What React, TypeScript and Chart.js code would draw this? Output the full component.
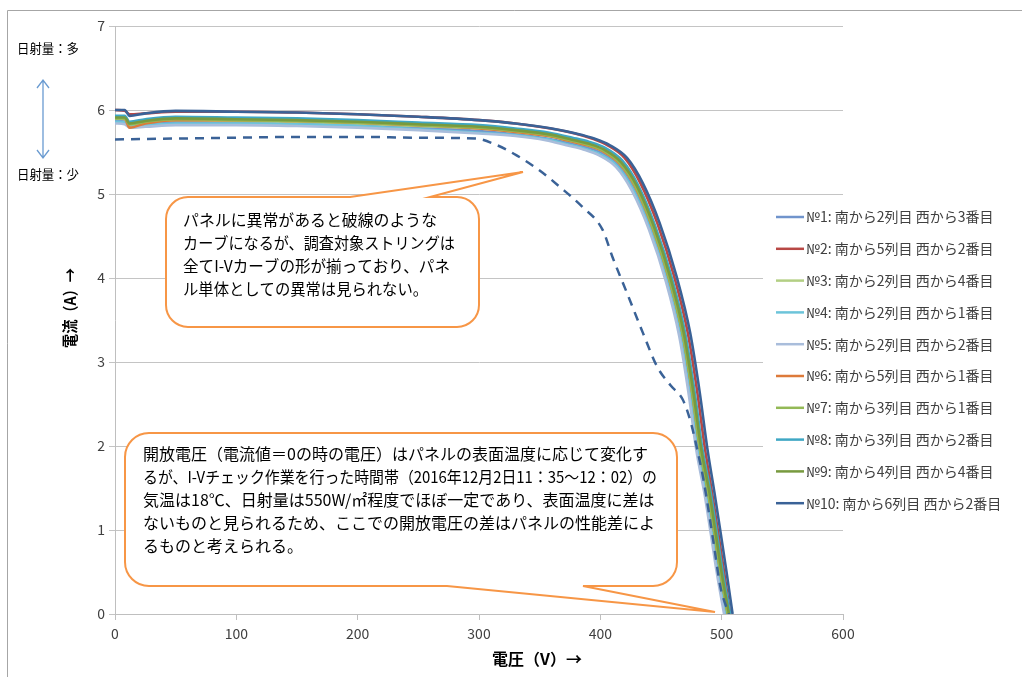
import React, { useEffect, useRef } from "react";
import { Chart, registerables } from "chart.js";

Chart.register(...registerables);

// ---- data (voltage V, current A) ----
const V1 = [0, 8, 12, 25, 50, 100, 150, 200, 250, 300, 330, 356, 374, 388, 401, 415, 428, 442, 456, 467, 475, 481, 488, 493, 498, 504];
const I1 = [5.88, 5.87, 5.81, 5.83, 5.86, 5.85, 5.84, 5.82, 5.79, 5.75, 5.71, 5.66, 5.61, 5.56, 5.49, 5.34, 5.06, 4.59, 3.97, 3.32, 2.6, 1.97, 1.43, 0.96, 0.49, 0.0];
const V2 = [0, 8, 12, 25, 50, 100, 150, 200, 250, 300, 330, 359, 379, 393, 406, 420, 433, 447, 461, 472, 480, 486, 492, 497, 502, 507];
const I2 = [6.0, 5.99, 5.95, 5.96, 5.98, 5.98, 5.97, 5.95, 5.92, 5.88, 5.84, 5.78, 5.72, 5.66, 5.58, 5.43, 5.13, 4.65, 4.01, 3.35, 2.63, 1.99, 1.45, 0.98, 0.5, 0.0];
const V3 = [0, 8, 12, 25, 50, 100, 150, 200, 250, 300, 330, 357, 375, 389, 402, 416, 429, 443, 457, 468, 476, 482, 489, 494, 499, 505];
const I3 = [5.9, 5.89, 5.82, 5.85, 5.88, 5.87, 5.86, 5.84, 5.81, 5.78, 5.74, 5.69, 5.63, 5.58, 5.51, 5.36, 5.08, 4.6, 3.97, 3.32, 2.6, 1.97, 1.43, 0.96, 0.49, 0.0];
const V4 = [0, 8, 12, 25, 50, 100, 150, 200, 250, 300, 330, 356, 373, 387, 400, 414, 427, 441, 455, 466, 474, 480, 487, 492, 497, 503];
const I4 = [5.86, 5.85, 5.8, 5.82, 5.84, 5.84, 5.83, 5.81, 5.77, 5.73, 5.7, 5.65, 5.59, 5.54, 5.47, 5.33, 5.05, 4.58, 3.96, 3.31, 2.6, 1.97, 1.43, 0.96, 0.49, 0.0];
const V5 = [0, 8, 12, 25, 50, 100, 150, 200, 250, 300, 330, 355, 372, 386, 399, 413, 426, 440, 454, 465, 473, 479, 486, 491, 496, 502];
const I5 = [5.84, 5.83, 5.79, 5.8, 5.82, 5.82, 5.81, 5.79, 5.76, 5.72, 5.69, 5.64, 5.58, 5.53, 5.46, 5.32, 5.04, 4.58, 3.96, 3.31, 2.6, 1.96, 1.42, 0.96, 0.49, 0.0];
const V6 = [0, 8, 12, 25, 50, 100, 150, 200, 250, 300, 330, 357, 375, 389, 402, 416, 429, 443, 457, 468, 476, 482, 489, 494, 499, 505];
const I6 = [5.92, 5.9, 5.79, 5.84, 5.88, 5.88, 5.87, 5.85, 5.82, 5.78, 5.74, 5.69, 5.63, 5.58, 5.51, 5.36, 5.08, 4.6, 3.97, 3.32, 2.6, 1.97, 1.43, 0.96, 0.49, 0.0];
const V7 = [0, 8, 12, 25, 50, 100, 150, 200, 250, 300, 330, 357, 375, 389, 402, 416, 429, 443, 457, 468, 476, 482, 489, 494, 499, 505];
const I7 = [5.9, 5.9, 5.83, 5.86, 5.89, 5.88, 5.87, 5.85, 5.82, 5.79, 5.75, 5.7, 5.64, 5.59, 5.52, 5.37, 5.09, 4.61, 3.98, 3.32, 2.61, 1.97, 1.43, 0.97, 0.49, 0.0];
const V8 = [0, 8, 12, 25, 50, 100, 150, 200, 250, 300, 330, 358, 377, 391, 404, 418, 431, 445, 459, 470, 478, 484, 491, 496, 501, 507];
const I8 = [5.93, 5.93, 5.86, 5.89, 5.92, 5.91, 5.9, 5.88, 5.85, 5.82, 5.78, 5.73, 5.67, 5.62, 5.55, 5.4, 5.11, 4.63, 4.0, 3.34, 2.62, 1.98, 1.44, 0.97, 0.49, 0.0];
const V9 = [0, 8, 12, 25, 50, 100, 150, 200, 250, 300, 330, 358, 376, 390, 403, 417, 430, 444, 458, 469, 477, 483, 490, 495, 500, 506];
const I9 = [5.91, 5.91, 5.84, 5.87, 5.9, 5.89, 5.88, 5.86, 5.83, 5.8, 5.76, 5.71, 5.65, 5.6, 5.53, 5.38, 5.1, 4.62, 3.99, 3.33, 2.61, 1.98, 1.44, 0.97, 0.49, 0.0];
const V10 = [0, 8, 12, 25, 50, 100, 150, 200, 250, 300, 330, 360, 380, 395, 408, 422, 435, 449, 463, 474, 482, 488, 494, 499, 504, 509];
const I10 = [6.0, 6.0, 5.93, 5.96, 5.99, 5.98, 5.97, 5.95, 5.92, 5.88, 5.84, 5.78, 5.72, 5.66, 5.58, 5.43, 5.13, 4.65, 4.01, 3.35, 2.63, 1.99, 1.45, 0.98, 0.5, 0.0];
// abnormal example (dashed)
const VD = [0, 50, 100, 150, 200, 250, 297, 315, 331, 350, 367, 385, 402, 410, 422, 435, 447, 458, 468, 474, 480, 485, 493, 499, 503, 506];
const ID = [5.65, 5.66, 5.67, 5.68, 5.68, 5.67, 5.66, 5.58, 5.46, 5.28, 5.08, 4.85, 4.57, 4.25, 3.82, 3.35, 2.94, 2.72, 2.55, 2.31, 1.95, 1.6, 0.88, 0.32, 0.12, 0.0];

const SERIES_NAMES = [
  "№1: 南から2列目 西から3番目",
  "№2: 南から5列目 西から2番目",
  "№3: 南から2列目 西から4番目",
  "№4: 南から2列目 西から1番目",
  "№5: 南から2列目 西から2番目",
  "№6: 南から5列目 西から1番目",
  "№7: 南から3列目 西から1番目",
  "№8: 南から3列目 西から2番目",
  "№9: 南から4列目 西から4番目",
  "№10: 南から6列目 西から2番目",
];
const SERIES_V = [V1, V2, V3, V4, V5, V6, V7, V8, V9, V10];
const SERIES_I = [I1, I2, I3, I4, I5, I6, I7, I8, I9, I10];
const COLORS = ["#7094CC", "#B84845", "#B3CF84", "#6CC4DA", "#A9BDDB", "#DD7A3A", "#93B956", "#3FA7C4", "#789A3F", "#3A6297"];
const DASH_COLOR = "#3A6297";

const X_TICKS = [0, 100, 200, 300, 400, 500, 600];
const Y_TICKS = [0, 1, 2, 3, 4, 5, 6, 7];

const X_TITLE = "電圧（V）→";
const Y_TITLE = "電流（A）→";
const SUN_HIGH = "日射量：多";
const SUN_LOW = "日射量：少";
const NOTE1 = [
  "パネルに異常があると破線のような",
  "カーブになるが、調査対象ストリングは",
  "全てI-Vカーブの形が揃っており、パネ",
  "ル単体としての異常は見られない。",
];
const NOTE2 = [
  "開放電圧（電流値＝0の時の電圧）はパネルの表面温度に応じて変化す",
  "るが、I-Vチェック作業を行った時間帯（2016年12月2日11：35～12：02）の",
  "気温は18℃、日射量は550W/㎡程度でほぼ一定であり、表面温度に差は",
  "ないものと見られるため、ここでの開放電圧の差はパネルの性能差によ",
  "るものと考えられる。",
];
const NOTE1_WIDTHS = [254, 272, 267, 245];
const NOTE2_WIDTHS = [514, 514, 514, 514, 165];

const FONT = "'Noto Sans CJK JP', 'Noto Sans', sans-serif";
const ORANGE = "#F79646";

function callout(
  ctx: CanvasRenderingContext2D,
  x0: number, y0: number, x1: number, y1: number, r: number,
  side: "top" | "bottom", b1: number, b2: number, tx: number, ty: number
) {
  ctx.beginPath();
  ctx.moveTo(x0 + r, y0);
  if (side === "top") {
    ctx.lineTo(b1, y0);
    ctx.lineTo(tx, ty);
    ctx.lineTo(b2, y0);
  }
  ctx.lineTo(x1 - r, y0);
  ctx.arcTo(x1, y0, x1, y0 + r, r);
  ctx.lineTo(x1, y1 - r);
  ctx.arcTo(x1, y1, x1 - r, y1, r);
  if (side === "bottom") {
    ctx.lineTo(b2, y1);
    ctx.lineTo(tx, ty);
    ctx.lineTo(b1, y1);
  }
  ctx.lineTo(x0 + r, y1);
  ctx.arcTo(x0, y1, x0, y1 - r, r);
  ctx.lineTo(x0, y0 + r);
  ctx.arcTo(x0, y0, x0 + r, y0, r);
  ctx.closePath();
  ctx.fillStyle = "#FFFFFF";
  ctx.fill();
  ctx.strokeStyle = ORANGE;
  ctx.lineWidth = 2;
  ctx.lineJoin = "miter";
  ctx.stroke();
}

function fitText(ctx: CanvasRenderingContext2D, t: string, x: number, y: number, w: number) {
  const m = ctx.measureText(t).width;
  if (m <= w) {
    ctx.fillText(t, x, y);
  } else {
    ctx.fillText(t, x, y, w);
  }
}

const overlayPlugin = {
  id: "overlay",
  beforeDraw(chart: any) {
    const ctx = chart.ctx as CanvasRenderingContext2D;
    ctx.save();
    ctx.fillStyle = "#FFFFFF";
    ctx.fillRect(0, 0, chart.width, chart.height);
    ctx.strokeStyle = "#A6A6A6";
    ctx.lineWidth = 1;
    ctx.beginPath();
    ctx.moveTo(7.5, 677);
    ctx.lineTo(7.5, 10.5);
    ctx.lineTo(1022, 10.5);
    ctx.stroke();
    ctx.restore();
  },
  afterDraw(chart: any) {
    const ctx = chart.ctx as CanvasRenderingContext2D;
    ctx.save();
    // axis titles
    ctx.fillStyle = "#000000";
    ctx.font = `bold 16px ${FONT}`;
    ctx.textAlign = "center";
    ctx.textBaseline = "middle";
    ctx.fillText(X_TITLE, 537, 659);
    ctx.save();
    ctx.translate(70, 308);
    ctx.rotate(-Math.PI / 2);
    ctx.fillText(Y_TITLE, 0, 0, 80);
    ctx.restore();

    // irradiance annotation
    ctx.font = `13px ${FONT}`;
    ctx.textAlign = "left";
    ctx.fillStyle = "#000000";
    fitText(ctx, SUN_HIGH, 17, 48, 62);
    fitText(ctx, SUN_LOW, 17, 174, 62);
    ctx.strokeStyle = "#6A9BD1";
    ctx.lineWidth = 1.3;
    ctx.beginPath();
    ctx.moveTo(43, 80);
    ctx.lineTo(43, 158);
    ctx.moveTo(37, 88);
    ctx.lineTo(43, 80);
    ctx.lineTo(49, 88);
    ctx.moveTo(37, 150);
    ctx.lineTo(43, 158);
    ctx.lineTo(49, 150);
    ctx.stroke();

    // callouts
    callout(ctx, 166, 197, 479, 327, 22, "top", 350, 430, 523, 172);
    ctx.fillStyle = "#000000";
    ctx.font = `16px ${FONT}`;
    ctx.textBaseline = "middle";
    NOTE1.forEach((t, i) => fitText(ctx, t, 183, 220 + i * 23, NOTE1_WIDTHS[i]));

    callout(ctx, 125, 433, 677, 586, 24, "bottom", 447, 583, 715, 612);
    ctx.fillStyle = "#000000";
    NOTE2.forEach((t, i) => fitText(ctx, t, 143, 454 + i * 23, NOTE2_WIDTHS[i]));

    // legend
    ctx.fillStyle = "#FFFFFF";
    ctx.fillRect(763, 200, 252, 320);
    ctx.font = `14px ${FONT}`;
    SERIES_NAMES.forEach((name, i) => {
      const y = 217 + i * 31.8;
      ctx.strokeStyle = COLORS[i];
      ctx.lineWidth = 2.5;
      ctx.beginPath();
      ctx.moveTo(776, y);
      ctx.lineTo(804, y);
      ctx.stroke();
      ctx.fillStyle = "#404040";
      fitText(ctx, name, 806, y, 200);
    });
    ctx.restore();
  },
};

export default function App() {
  const ref = useRef<HTMLCanvasElement | null>(null);
  useEffect(() => {
    if (!ref.current) return;
    const datasets: any[] = SERIES_NAMES.map((name, s) => ({
      label: name,
      data: SERIES_V[s].map((v, k) => ({ x: v, y: SERIES_I[s][k] })),
      borderColor: COLORS[s],
      borderWidth: 2.6,
      showLine: true,
      pointRadius: 0,
      cubicInterpolationMode: "monotone",
      order: 10 - s,
    }));
    datasets.push({
      label: "異常例",
      data: VD.map((v, k) => ({ x: v, y: ID[k] })),
      borderColor: DASH_COLOR,
      borderWidth: 2.5,
      borderDash: [9, 7],
      showLine: true,
      pointRadius: 0,
      cubicInterpolationMode: "monotone",
      order: 0,
    });
    const chart = new Chart(ref.current, {
      type: "scatter",
      data: { datasets },
      plugins: [overlayPlugin],
      options: {
        animation: false,
        responsive: false,
        layout: { padding: { left: 0, top: 26, right: 179, bottom: 0 } },
        plugins: { legend: { display: false }, tooltip: { enabled: false } },
        scales: {
          x: {
            type: "linear",
            min: 0,
            max: 600,
            afterBuildTicks: (s: any) => { s.ticks = X_TICKS.map((v) => ({ value: v })); },
            afterFit: (s: any) => { s.height = 63; },
            ticks: { font: { size: 14, family: FONT }, color: "#404040", padding: 5 },
            grid: { drawOnChartArea: false, drawTicks: true, tickLength: 6, color: "#BFBFBF" },
            border: { color: "#BFBFBF" },
          },
          y: {
            type: "linear",
            min: 0,
            max: 7,
            afterBuildTicks: (s: any) => { s.ticks = Y_TICKS.map((v) => ({ value: v })); },
            afterFit: (s: any) => { s.width = 115; },
            ticks: { font: { size: 14, family: FONT }, color: "#404040", padding: 4 },
            grid: { color: "#C4C4C4", tickLength: 6 },
            border: { color: "#BFBFBF" },
          },
        },
      },
    });
    return () => chart.destroy();
  }, []);
  return (
    <div style={{ position: "fixed", left: 0, top: 0, width: 1022, height: 677, background: "#fff" }}>
      <canvas ref={ref} width={1022} height={677} style={{ width: 1022, height: 677, display: "block" }} />
    </div>
  );
}
